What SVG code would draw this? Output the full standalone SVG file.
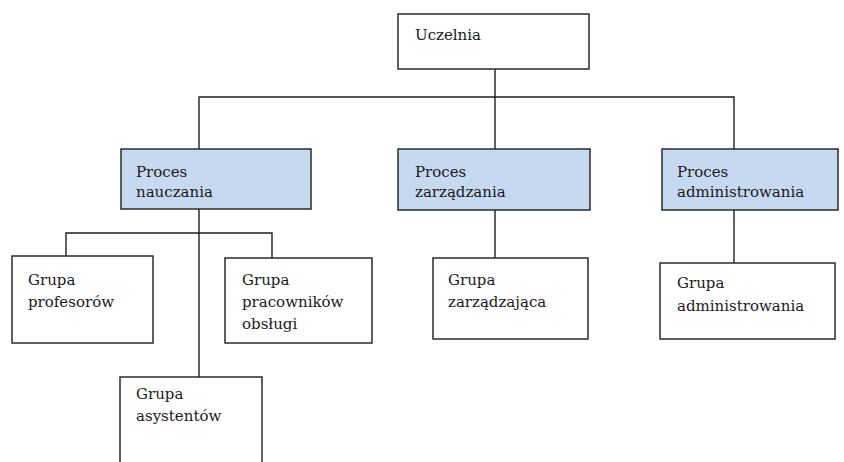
<svg xmlns="http://www.w3.org/2000/svg" width="844" height="462" viewBox="0 0 844 462">
  <style>
    .box { fill: #ffffff; stroke: #2b2b2b; stroke-width: 1.5; }
    .proc { fill: #c6d9f0; stroke: #2b2b2b; stroke-width: 1.5; }
    .lbl { font-family: "DejaVu Serif", "Liberation Serif", serif; font-size: 15px; fill: #1a1a1a; }
    .wire { fill: none; stroke: #1e1e1e; stroke-width: 1.4; }
  </style>
  <rect width="844" height="462" fill="#ffffff"/>

  <!-- connectors -->
  <g id="connectors">
    <path class="wire" d="M495 69 V149"/>
    <path class="wire" d="M199 149 V97 H734 V149"/>
    <path class="wire" d="M199 209 V377"/>
    <path class="wire" d="M66 256 V233 H272 V258"/>
    <path class="wire" d="M495 210 V258"/>
    <path class="wire" d="M734 210 V263"/>
  </g>

  <g id="uczelnia">
    <rect class="box" x="398" y="14" width="191" height="55"/>
    <text class="lbl" x="415" y="40">Uczelnia</text>
  </g>

  <g id="proces-nauczania">
    <rect class="proc" x="121" y="149" width="190" height="60"/>
    <text class="lbl" x="136" y="177">Proces</text>
    <text class="lbl" x="136" y="197">nauczania</text>
  </g>

  <g id="proces-zarzadzania">
    <rect class="proc" x="398" y="149" width="192" height="61"/>
    <text class="lbl" x="415" y="177">Proces</text>
    <text class="lbl" x="415" y="197">zarządzania</text>
  </g>

  <g id="proces-administrowania">
    <rect class="proc" x="662" y="149" width="176" height="61"/>
    <text class="lbl" x="677" y="177">Proces</text>
    <text class="lbl" x="677" y="197">administrowania</text>
  </g>

  <g id="grupa-profesorow">
    <rect class="box" x="12" y="256" width="141" height="87"/>
    <text class="lbl" x="28" y="285">Grupa</text>
    <text class="lbl" x="28" y="307">profesorów</text>
  </g>

  <g id="grupa-pracownikow-obslugi">
    <rect class="box" x="225" y="258" width="147" height="85"/>
    <text class="lbl" x="242" y="285">Grupa</text>
    <text class="lbl" x="242" y="307">pracowników</text>
    <text class="lbl" x="242" y="329">obsługi</text>
  </g>

  <g id="grupa-asystentow">
    <rect class="box" x="120" y="377" width="142" height="100"/>
    <text class="lbl" x="136" y="399">Grupa</text>
    <text class="lbl" x="136" y="421">asystentów</text>
  </g>

  <g id="grupa-zarzadzajaca">
    <rect class="box" x="433" y="258" width="155" height="81"/>
    <text class="lbl" x="448" y="285">Grupa</text>
    <text class="lbl" x="448" y="307">zarządzająca</text>
  </g>

  <g id="grupa-administrowania">
    <rect class="box" x="660" y="263" width="175" height="76"/>
    <text class="lbl" x="677" y="288">Grupa</text>
    <text class="lbl" x="677" y="311">administrowania</text>
  </g>
</svg>
